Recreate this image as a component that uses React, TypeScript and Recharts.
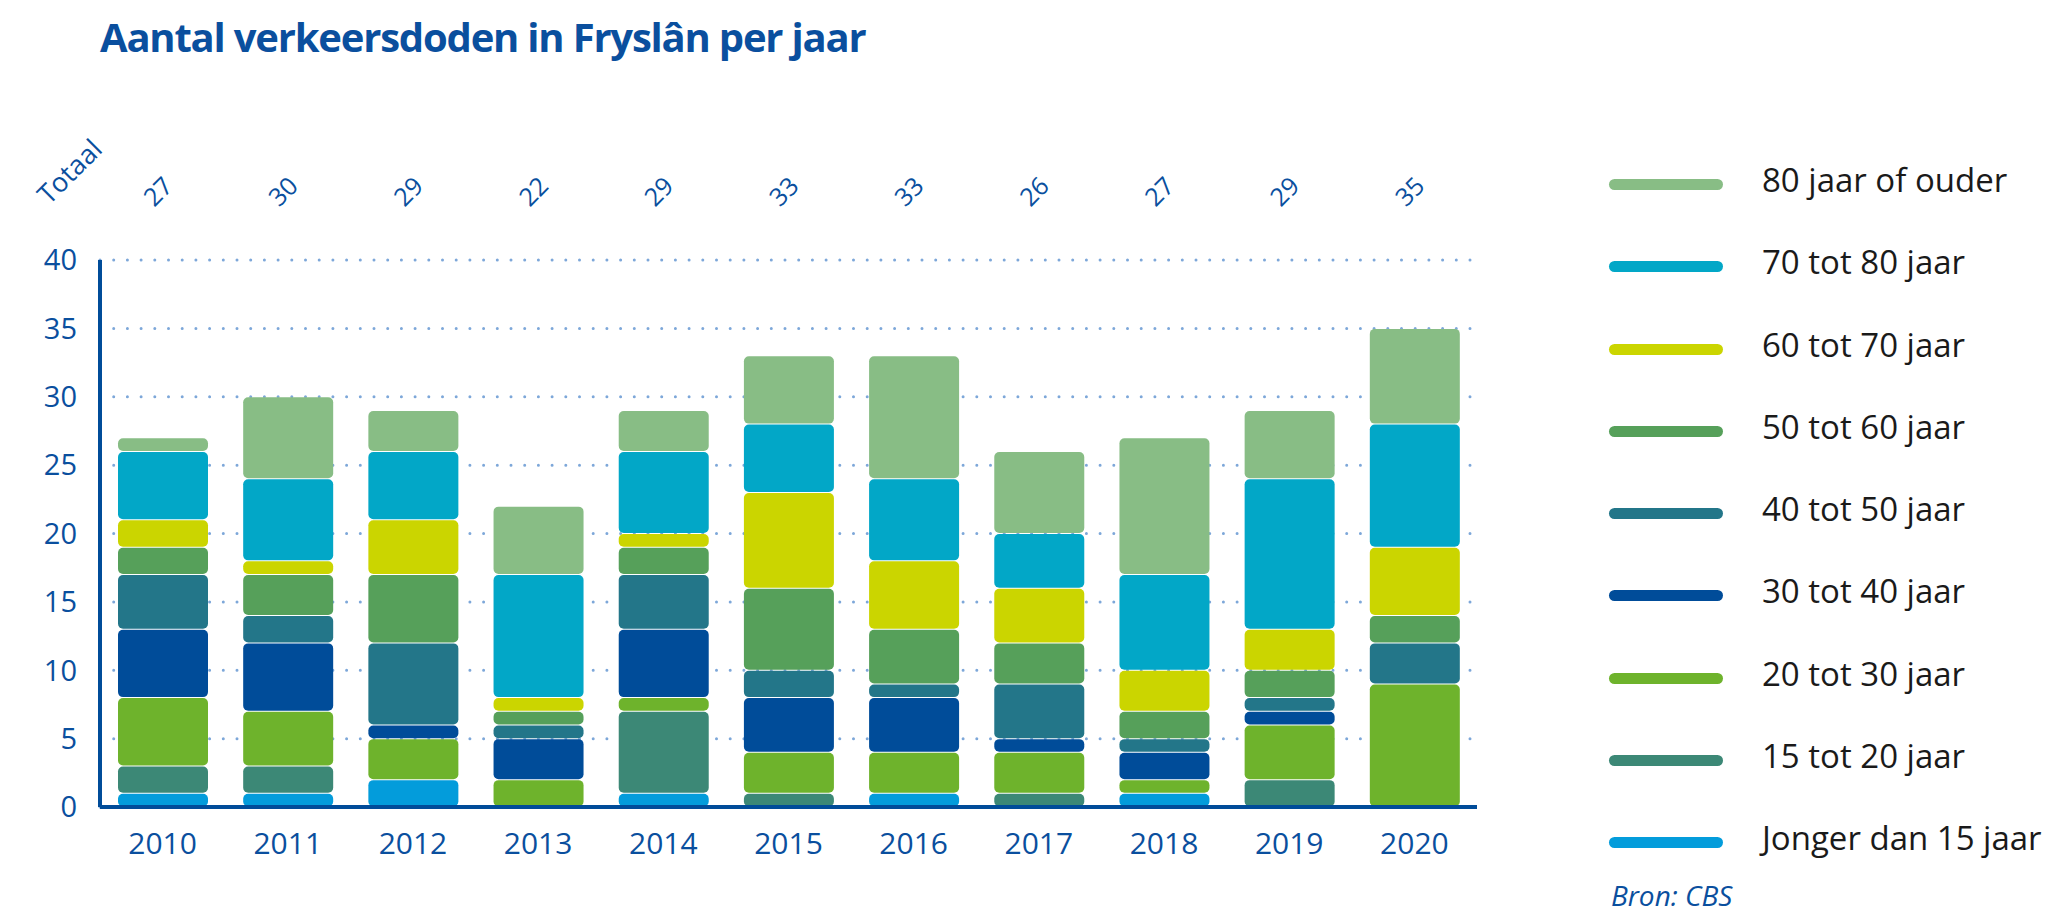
import { BarChart, Bar, XAxis, YAxis, CartesianGrid } from "recharts";

const years = ["2010", "2011", "2012", "2013", "2014", "2015", "2016", "2017", "2018", "2019", "2020"];
const totals = [27, 30, 29, 22, 29, 33, 33, 26, 27, 29, 35];
const yTicks = [0, 5, 10, 15, 20, 25, 30, 35, 40];

// stacked from bottom to top
const ageGroups = [
  "Jonger dan 15 jaar",
  "15 tot 20 jaar",
  "20 tot 30 jaar",
  "30 tot 40 jaar",
  "40 tot 50 jaar",
  "50 tot 60 jaar",
  "60 tot 70 jaar",
  "70 tot 80 jaar",
  "80 jaar of ouder",
];
const groupColors = ["#039cdb", "#3c8876", "#6eb32c", "#004c99", "#237689", "#56a05a", "#cbd500", "#02a7c7", "#88bd85"];

const jongerDan15 = [1, 1, 2, 0, 1, 0, 1, 0, 1, 0, 0];
const van15tot20 = [2, 2, 0, 0, 6, 1, 0, 1, 0, 2, 0];
const van20tot30 = [5, 4, 3, 2, 1, 3, 3, 3, 1, 4, 9];
const van30tot40 = [5, 5, 1, 3, 5, 4, 4, 1, 2, 1, 0];
const van40tot50 = [4, 2, 6, 1, 4, 2, 1, 4, 1, 1, 3];
const van50tot60 = [2, 3, 5, 1, 2, 6, 4, 3, 2, 2, 2];
const van60tot70 = [2, 1, 4, 1, 1, 7, 5, 4, 3, 3, 5];
const van70tot80 = [5, 6, 5, 9, 6, 5, 6, 4, 7, 11, 9];
const van80plus = [1, 6, 3, 5, 3, 5, 9, 6, 10, 5, 7];

const seriesValues = [jongerDan15, van15tot20, van20tot30, van30tot40, van40tot50, van50tot60, van60tot70, van70tot80, van80plus];

const BLUE = "#0a4f9e";
const FONT = "'Open Sans', sans-serif";
const PLOT_TOP = 260;

const chartData = years.map((year, i) => {
  const row: Record<string, string | number> = { year, total: totals[i] };
  seriesValues.forEach((vals, s) => {
    row[`s${s}`] = vals[i];
  });
  return row;
});

const Segment = (props: any) => {
  const { x, y, width, height, fill } = props;
  if (!height || height <= 0) return null;
  return <rect x={x} y={y + 0.5} width={width} height={Math.max(height - 1, 0)} rx={5} ry={5} fill={fill} />;
};

// totals row above the plot, one per category
const TotalTick = (props: any) => {
  const { x, index } = props;
  const cx = x - 4.5;
  const cy = PLOT_TOP - 68.5;
  return (
    <text
      x={cx}
      y={cy}
      dy="0.35em"
      textAnchor="middle"
      transform={`rotate(-45 ${cx} ${cy})`}
      fill={BLUE}
      fontSize={25}
      fontFamily={FONT}
    >
      {totals[index]}
    </text>
  );
};

export default function App() {
  return (
    <div style={{ position: "absolute", left: 0, top: 0, width: 2060, height: 911, background: "#fff", fontFamily: FONT }}>
      <div
        style={{
          position: "absolute",
          left: 100,
          top: 17,
          fontSize: 40,
          lineHeight: "40px",
          fontWeight: 700,
          letterSpacing: -1.2,
          color: BLUE,
          whiteSpace: "nowrap",
        }}
      >
        Aantal verkeersdoden in Fryslân per jaar
      </div>

      <div
        style={{
          position: "absolute",
          left: 69,
          top: 171,
          transform: "translate(-50%, -50%) rotate(-45deg)",
          fontSize: 27,
          lineHeight: "27px",
          color: BLUE,
          whiteSpace: "nowrap",
        }}
      >
        Totaal
      </div>

      <div style={{ position: "absolute", left: 0, top: 0 }}>
        <BarChart width={1500} height={911} data={chartData} margin={{ top: PLOT_TOP - 30, right: 23, bottom: 74, left: 40 }}>
          <CartesianGrid
            horizontal
            vertical={false}
            stroke="#7da7d9"
            strokeWidth={3}
            strokeDasharray="0 13.7"
            strokeLinecap="round"
          />
          <XAxis
            dataKey="year"
            height={30}
            interval={0}
            tickSize={0}
            tickMargin={26}
            axisLine={{ stroke: "#004c99", strokeWidth: 4 }}
            tick={{ fill: BLUE, fontSize: 30, fontFamily: FONT }}
          />
          <XAxis
            xAxisId="top"
            dataKey="year"
            orientation="top"
            height={30}
            interval={0}
            axisLine={false}
            tickLine={false}
            tick={<TotalTick />}
          />
          <YAxis
            width={60}
            domain={[0, 40]}
            ticks={yTicks}
            interval={0}
            tickSize={0}
            tickMargin={23}
            axisLine={{ stroke: "#004c99", strokeWidth: 4 }}
            tick={{ fill: BLUE, fontSize: 29, fontFamily: FONT }}
          />
          {ageGroups.map((name, s) => (
            <Bar
              key={name}
              dataKey={`s${s}`}
              name={name}
              stackId="a"
              fill={groupColors[s]}
              barSize={90}
              shape={<Segment />}
              isAnimationActive={false}
            />
          ))}
        </BarChart>
      </div>

      {ageGroups
        .map((name, s) => ({ name, color: groupColors[s] }))
        .reverse()
        .map((item, i) => {
          const cy = 184.5 + i * 82.25;
          return (
            <div key={item.name}>
              <div
                style={{
                  position: "absolute",
                  left: 1609,
                  top: cy - 5.5,
                  width: 114,
                  height: 11,
                  borderRadius: 6,
                  background: item.color,
                }}
              />
              <div
                style={{
                  position: "absolute",
                  left: 1762,
                  top: cy - 3.5 - 26,
                  fontSize: 33,
                  lineHeight: "50px",
                  color: "#1a1a1a",
                  whiteSpace: "nowrap",
                }}
              >
                {item.name}
              </div>
            </div>
          );
        })}

      <div
        style={{
          position: "absolute",
          left: 1611,
          top: 881,
          fontSize: 28,
          lineHeight: "28px",
          fontStyle: "italic",
          color: BLUE,
          whiteSpace: "nowrap",
        }}
      >
        Bron: CBS
      </div>
    </div>
  );
}
